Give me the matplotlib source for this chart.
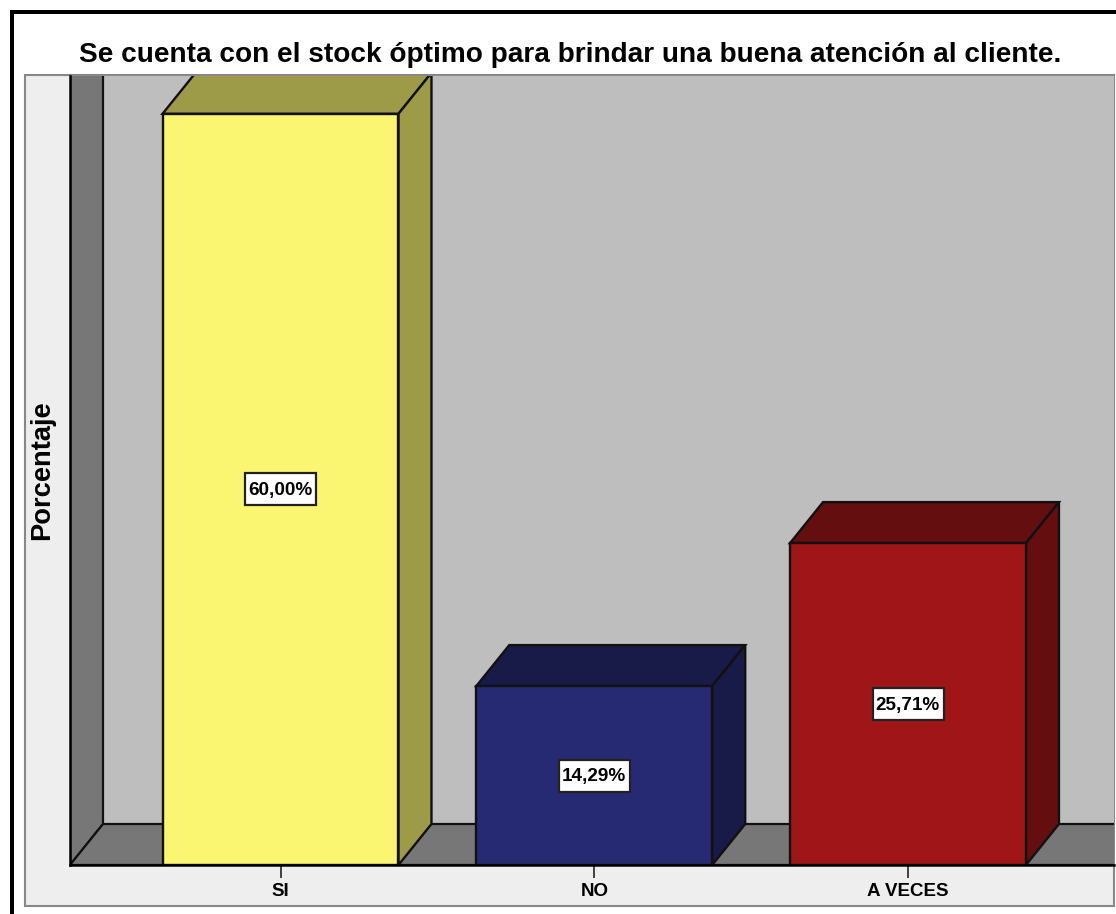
import matplotlib
matplotlib.use("Agg")
import matplotlib.pyplot as plt
from matplotlib.patches import Rectangle, Polygon

categorias = ["SI", "NO", "A VECES"]
porcentajes = [60.00, 14.29, 25.71]
etiquetas = ["60,00%", "14,29%", "25,71%"]
colores_frente = ["#FBF672", "#262A72", "#A01518"]
colores_lado = ["#9D9A48", "#181A48", "#640E10"]
titulo = "Se cuenta con el stock óptimo para brindar una buena atención al cliente."

W, H = 1116, 914
plt.rcParams["font.family"] = ["Liberation Sans", "DejaVu Sans"]
fig = plt.figure(figsize=(W / 100, H / 100), dpi=100, facecolor="white")

# capa de fondo en pixeles: borde negro y marco gris
fondo = fig.add_axes([0, 0, 1, 1])
fondo.set_xlim(0, W)
fondo.set_ylim(H, 0)
fondo.axis("off")
fondo.add_patch(Rectangle((10, 10), 4, H, fc="black", ec="none"))
fondo.add_patch(Rectangle((10, 10), W, 3.5, fc="black", ec="none"))
fondo.add_patch(Rectangle((25, 75), 1089, 831, fc="#EEEEEE", ec="#888888", lw=1.5))
fondo.text(570, 55, titulo, ha="center", va="center", fontsize=20.2, color="black",
           fontweight="bold")
fondo.text(42, 470, "Porcentaje", rotation=90, ha="center", va="center",
           fontsize=19.6, color="black", fontweight="bold")

# ejes del grafico: 313.75 px entre barras, 12.52 px por cada 1 %
paso = 313.75
px_pct = 12.52
ax = fig.add_axes([70 / W, (H - 865) / H, (1114 - 70) / W, (865 - 76) / H])
ax.set_xlim((70 - 280.5) / paso, (1114 - 280.5) / paso)
ax.set_ylim(0, (865 - 76) / px_pct)
ax.set_facecolor("#BEBEBE")
for s in ["top", "right"]:
    ax.spines[s].set_visible(False)
ax.spines["left"].set_linewidth(1.8)
ax.spines["bottom"].set_linewidth(1.8)
ax.spines["left"].set_zorder(6)
ax.spines["bottom"].set_zorder(6)

dx = 33 / paso
dy = 41 / px_pct
x0, x1 = ax.get_xlim()
y1 = ax.get_ylim()[1]

# paredes de la caja 3D
ax.add_patch(Polygon([(x0, 0), (x0 + dx, dy), (x0 + dx, y1 + 1), (x0, y1 + 1)],
                     fc="#777777", ec="#111111", lw=1.6, zorder=1))
ax.add_patch(Polygon([(x0, 0), (x0 + dx, dy), (x1 + 1, dy), (x1 + 1, 0)],
                     fc="#777777", ec="#111111", lw=1.6, zorder=1))

# barras con cara frontal, superior y lateral
ancho = 0.752
caja_w = 71 / paso
caja_h = 32 / px_pct
for i, (v, e, cf, cl) in enumerate(zip(porcentajes, etiquetas, colores_frente, colores_lado)):
    izq = i - ancho / 2
    der = i + ancho / 2
    ax.add_patch(Polygon([(izq, v), (izq + dx, v + dy), (der + dx, v + dy), (der, v)],
                         fc=cl, ec="#111111", lw=1.7, zorder=3))
    ax.add_patch(Polygon([(der, 0), (der + dx, dy), (der + dx, v + dy), (der, v)],
                         fc=cl, ec="#111111", lw=1.7, zorder=3))
    ax.bar(i, v, width=ancho, color=cf, edgecolor="#111111", linewidth=1.7, zorder=4)
    # recuadro blanco de la etiqueta, centrado en media barra
    ax.add_patch(Rectangle((i - caja_w / 2, v / 2 - caja_h / 2), caja_w, caja_h,
                           fc="white", ec="#222222", lw=1.6, zorder=6))
    ax.text(i, v / 2 - 0.08, e, ha="center", va="center", fontsize=13.6, fontweight="bold",
            color="black", zorder=7)

ax.set_xticks(range(len(categorias)))
ax.set_xticklabels(categorias, fontsize=13.5, fontweight="bold")
ax.tick_params(axis="x", length=9, width=1.3, color="#333333", pad=4)
ax.set_yticks([])

fig.savefig("out.png", dpi=100)
